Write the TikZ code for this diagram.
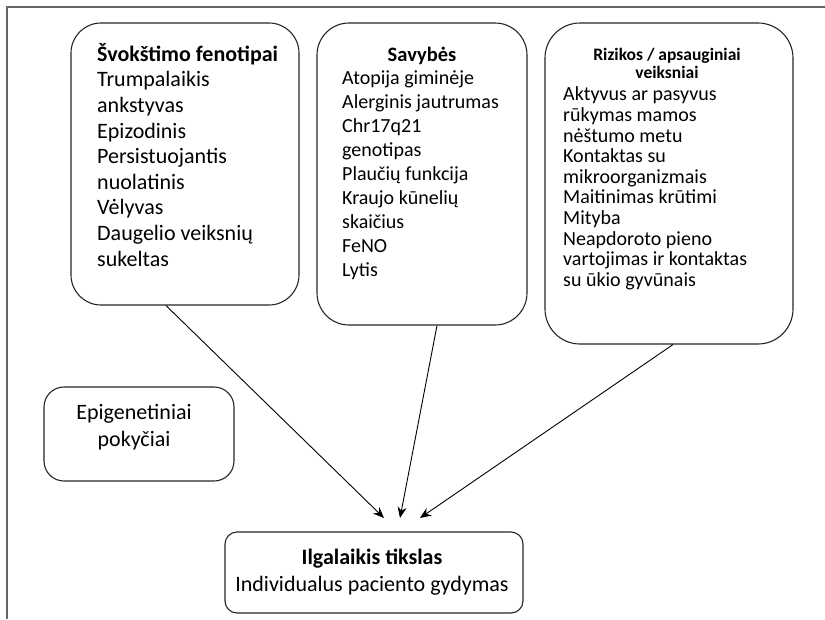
\documentclass[tikz,border=0pt]{standalone}
\usepackage{fontspec}
\setmainfont{Carlito}
\usetikzlibrary{arrows.meta,calc}
\begin{document}
\begin{tikzpicture}[x=1pt,y=-1pt,
  box/.style={draw=black!85, line width=1.1pt, minimum width=#1, inner sep=0pt},
  txt/.style={inner sep=0pt, anchor=north west, align=left},
  ctxt/.style={inner sep=0pt, anchor=north, align=center},
  link/.style={draw=black, line width=0.9pt, -{Stealth[length=11pt,width=9pt]}}]
\useasboundingbox (0,0) rectangle (825,619);
\fill[white] (0,0) rectangle (825,619);
% page frame
\draw[black!60, line width=1.6pt] (7,619) -- (7,7) -- (825,7);

% boxes
\node[box=228pt, minimum height=282pt, rounded corners=30pt] (b1) at (185,164) {};
\node[box=210pt, minimum height=302pt, rounded corners=32pt] (b2) at (422,174) {};
\node[box=248pt, minimum height=321pt, rounded corners=35pt] (b3) at (669,183.5) {};
\node[box=190pt, minimum height=94pt, rounded corners=20pt] (epi) at (139,434) {};
\node[box=298pt, minimum height=81pt, rounded corners=12pt] (goal) at (374,572.5) {};

% texts
\node[txt, font=\fontsize{22}{25.6}\selectfont] (t1) at (97,39)
  {\rule{0pt}{22pt}\textbf{Švokštimo fenotipai}\\Trumpalaikis\\ankstyvas\\Epizodinis\\Persistuojantis\\nuolatinis\\Vėlyvas\\Daugelio veiksnių\\sukeltas};

\node[ctxt, font=\fontsize{20.5}{24}\selectfont] (h2) at (422,40.5) {\rule{0pt}{20.5pt}\textbf{Savybės}};
\node[txt, font=\fontsize{20}{24}\selectfont] (t2) at (342,64)
  {\rule{0pt}{20pt}Atopija giminėje\\Alerginis jautrumas\\Chr17q21\\genotipas\\Plaučių funkcija\\Kraujo kūnelių\\skaičius\\FeNO\\Lytis};

\node[ctxt, font=\fontsize{17.5}{18}\selectfont] (h3) at (667,42.5) {\rule{0pt}{17.5pt}\textbf{Rizikos / apsauginiai}\\\textbf{veiksniai}};
\node[txt, font=\fontsize{20}{20.6}\selectfont] (t3) at (563,80.6)
  {\rule{0pt}{20pt}Aktyvus ar pasyvus\\rūkymas mamos\\nėštumo metu\\Kontaktas su\\mikroorganizmais\\Maitinimas krūtimi\\Mityba\\Neapdoroto pieno\\vartojimas ir kontaktas\\su ūkio gyvūnais};

\node[ctxt, font=\fontsize{22}{27}\selectfont] (te) at (134,397) {\rule{0pt}{22pt}Epigenetiniai\\pokyčiai};

\node[ctxt, font=\fontsize{22}{27}\selectfont] (tg) at (372,542) {\rule{0pt}{22pt}\textbf{Ilgalaikis tikslas}\\Individualus paciento gydymas};

% arrow ends above the goal box
\coordinate (e1) at (384,518);
\coordinate (e2) at (400,518);
\coordinate (e3) at (420,518);

\draw[link] ($(b1.south west)!0.417!(b1.south east)$) -- (e1);
\draw[link] ($(b2.south west)!0.571!(b2.south east)$) -- (e2);
\draw[link] ($(b3.south west)!0.516!(b3.south east)$) -- (e3);
\end{tikzpicture}
\end{document}
